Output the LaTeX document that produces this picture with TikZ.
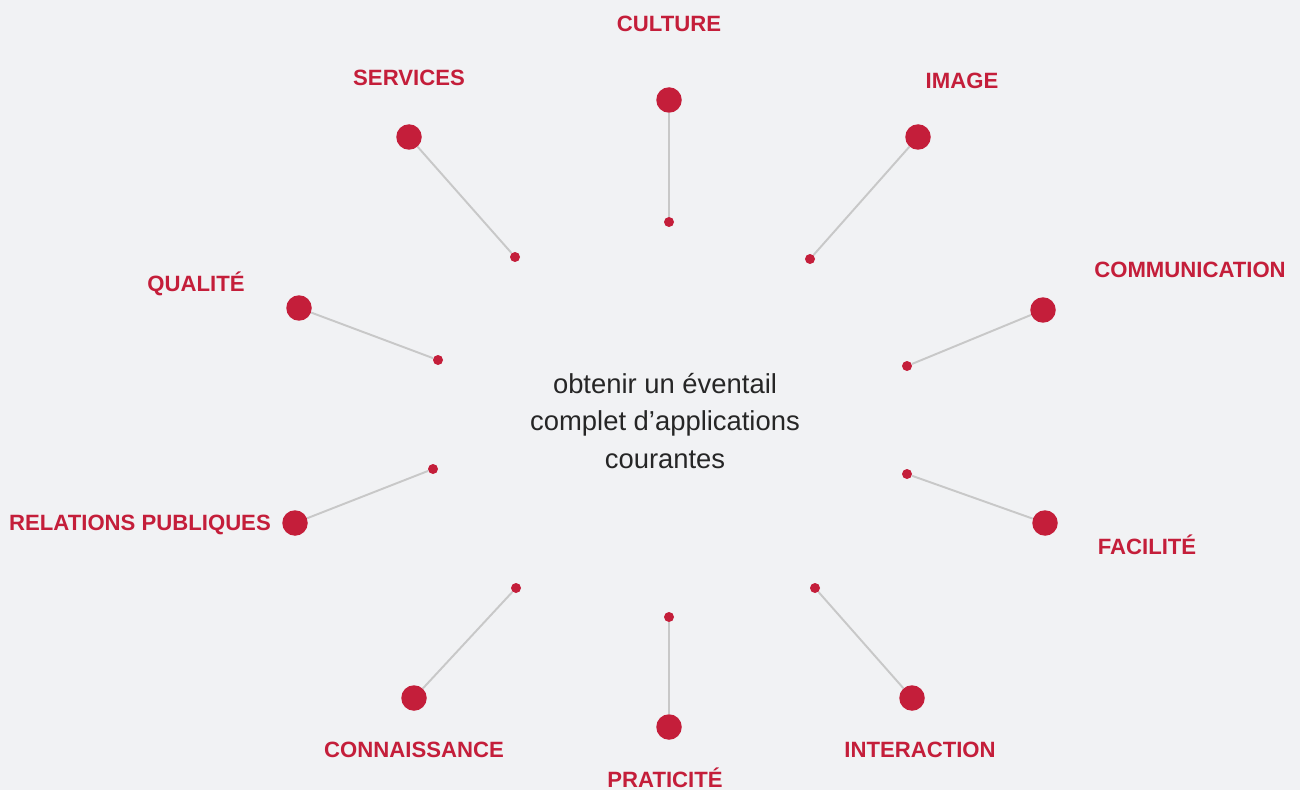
\documentclass[tikz,border=0pt]{standalone}
\usepackage{fontspec}
\setmainfont{Liberation Sans}
\definecolor{bgGrey}{HTML}{F1F2F4}
\definecolor{dotRed}{HTML}{C41E3A}
\definecolor{spokeGrey}{HTML}{C8C8C8}
\definecolor{txtDark}{HTML}{262626}
\begin{document}
\begin{tikzpicture}[x=0.02cm,y=-0.02cm,bigdot/.style={circle, fill=dotRed, inner sep=0pt, minimum size=5.1mm},smalldot/.style={circle, fill=dotRed, inner sep=0pt, minimum size=2mm},spoke/.style={draw=spokeGrey, line width=1.1pt},tag/.style={text=dotRed, font=\fontsize{12.6}{14}\selectfont\bfseries},hub/.style={text=txtDark, align=center, font=\fontsize{15.6}{21.5}\selectfont},]
                    \fill[bgGrey] (0,0) rectangle (1300,790);
                    \useasboundingbox (0,0) rectangle (1300,790);
                    \node[hub] (hub) at (665,421) {obtenir un éventail\\complet d'applications\\courantes};
                    % outer dots
                    \node[bigdot] (culture) at (669,100) {};
                    \node[bigdot] (image) at (918,137) {};
                    \node[bigdot] (comm) at (1043,310) {};
                    \node[bigdot] (facil) at (1045,523) {};
                    \node[bigdot] (inter) at (912,698) {};
                    \node[bigdot] (prat) at (669,727) {};
                    \node[bigdot] (conn) at (414,698) {};
                    \node[bigdot] (relpub) at (295,523) {};
                    \node[bigdot] (qual) at (299,308) {};
                    \node[bigdot] (serv) at (409,137) {};
                    % inner dots
                    \node[smalldot] (culture_in) at (669,222) {};
                    \node[smalldot] (image_in) at (810,259) {};
                    \node[smalldot] (comm_in) at (907,366) {};
                    \node[smalldot] (facil_in) at (907,474) {};
                    \node[smalldot] (inter_in) at (815,588) {};
                    \node[smalldot] (prat_in) at (669,617) {};
                    \node[smalldot] (conn_in) at (516,588) {};
                    \node[smalldot] (relpub_in) at (433,469) {};
                    \node[smalldot] (qual_in) at (438,360) {};
                    \node[smalldot] (serv_in) at (515,257) {};
                    % labels
                    \node[tag] (culture_lbl) at (669,24) {CULTURE};
                    \node[tag] (image_lbl) at (962,81) {IMAGE};
                    \node[tag] (comm_lbl) at (1190,270) {COMMUNICATION};
                    \node[tag] (facil_lbl) at (1147,545) {FACILITÉ};
                    \node[tag] (inter_lbl) at (920,750) {INTERACTION};
                    \node[tag] (prat_lbl) at (665,778) {PRATICITÉ};
                    \node[tag] (conn_lbl) at (414,750) {CONNAISSANCE};
                    \node[tag] (relpub_lbl) at (140,525) {RELATIONS PUBLIQUES};
                    \node[tag] (qual_lbl) at (196,284) {QUALITÉ};
                    \node[tag] (serv_lbl) at (409,78) {SERVICES};
                    % spokes
                    \draw[spoke] (culture) -- (culture_in);
                    \draw[spoke] (image) -- (image_in);
                    \draw[spoke] (comm) -- (comm_in);
                    \draw[spoke] (facil) -- (facil_in);
                    \draw[spoke] (inter) -- (inter_in);
                    \draw[spoke] (prat) -- (prat_in);
                    \draw[spoke] (conn) -- (conn_in);
                    \draw[spoke] (relpub) -- (relpub_in);
                    \draw[spoke] (qual) -- (qual_in);
                    \draw[spoke] (serv) -- (serv_in);
                \end{tikzpicture}
\end{document}
